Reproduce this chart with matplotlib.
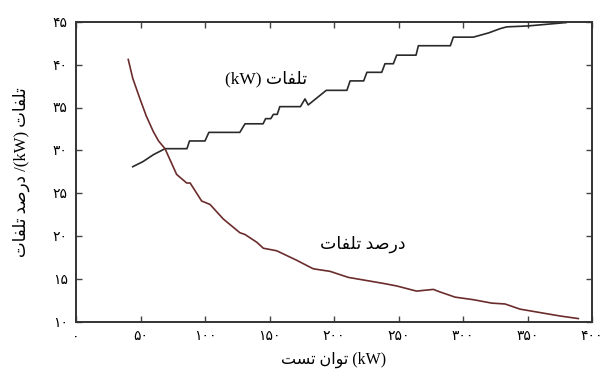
import numpy as np
import matplotlib
matplotlib.use("Agg")
import matplotlib.pyplot as plt

# Persian words written in presentation forms, visual (left-to-right) order,
# because matplotlib does no Arabic shaping / bidi on its own.
TALAFAT = "\uFE95\uFE8E\uFED4\uFEE0\uFE97"   # تلفات
DARSAD = "\uFEAA\uFEBB\uFEAD\uFEA9"          # درصد
TAVAN = "\uFEE5\uFE8D\uFEEE\uFE97"           # توان
TEST = "\uFE96\uFEB4\uFE97"                  # تست

# =========================
# Data
# =========================

# losses in kW (stair-like curve)
loss_x = [44, 52, 60, 69, 86, 88, 100, 103, 127, 131, 145, 147, 151, 153,
          156, 158, 174, 177.5, 180, 194, 210, 212.5, 223, 225.5, 237, 239.5,
          246, 248.6, 263.6, 265.4, 290.2, 292.5, 308, 320, 329, 334, 350, 380]
loss_y = [28.1, 28.7, 29.5, 30.2, 30.2, 31.1, 31.1, 32.1, 32.1, 33.1, 33.1,
          33.7, 33.7, 34.2, 34.2, 35.1, 35.1, 36.0, 35.3, 37.0, 37.0, 38.1,
          38.1, 39.1, 39.1, 40.1, 40.1, 41.1, 41.1, 42.2, 42.2, 43.2, 43.2,
          43.7, 44.2, 44.4, 44.5, 44.9]

# loss percentage
pct_x = [40.5, 44, 49.6, 54.5, 59.9, 64, 69, 78, 85.8, 88.5, 97.4, 103.9,
         114.2, 127.1, 131, 140.1, 145.2, 155.6, 171, 180, 184, 197, 211.1,
         222.7, 238.2, 248.6, 264, 277, 282.2, 293.8, 308, 322.3, 332.6,
         344.2, 359.7, 375.2, 389.4]
pct_y = [40.6, 38.4, 36.0, 34.0, 32.2, 31.1, 30.2, 27.2, 26.2, 26.2, 24.1,
         23.7, 22.0, 20.4, 20.2, 19.3, 18.6, 18.3, 17.2, 16.5, 16.2, 15.9,
         15.2, 14.9, 14.5, 14.2, 13.6, 13.8, 13.5, 12.9, 12.6, 12.2, 12.1,
         11.5, 11.1, 10.7, 10.4]

x_ticks = [0, 50, 100, 150, 200, 250, 300, 350, 400]
y_ticks = [10, 15, 20, 25, 30, 35, 40, 45]


def fa_digits(v):
    return str(v).translate(str.maketrans("0123456789", "۰۱۲۳۴۵۶۷۸۹"))


plt.rcParams["font.family"] = ["Liberation Serif", "DejaVu Sans"]

fig = plt.figure(figsize=(6.06, 3.71), dpi=100)
ax = fig.add_axes([76 / 606, 1 - 322 / 371, (592 - 76) / 606, (322 - 21.7) / 371])

ax.plot(loss_x, loss_y, color="#2a2a2a", lw=1.2)
ax.plot(pct_x, pct_y, color="#6b2c2c", lw=1.2)

ax.set_xlim(0, 400)
ax.set_ylim(10, 45)
ax.set_xticks(x_ticks)
ax.set_xticklabels([fa_digits(v) for v in x_ticks], fontsize=10)
ax.set_yticks(y_ticks)
ax.set_yticklabels([fa_digits(v) for v in y_ticks], fontsize=10)
ax.tick_params(direction="in", length=4, width=1, color="#444444",
               top=True, right=True, pad=6)
for s in ax.spines.values():
    s.set_linewidth(1.4)
    s.set_color("#333333")

ax.text(147, 38.3, "(kW) " + TALAFAT, fontsize=12.5, ha="center", va="center")
ax.text(222, 19.1, TALAFAT + " " + DARSAD, fontsize=12.5, ha="center", va="center")

ax.set_xlabel(TEST + " " + TAVAN + " (kW)", fontsize=11.5, labelpad=6)
ax.set_ylabel(TALAFAT + " " + DARSAD + " /(kW) " + TALAFAT, fontsize=12, labelpad=16)

fig.savefig("out.png", dpi=100)
